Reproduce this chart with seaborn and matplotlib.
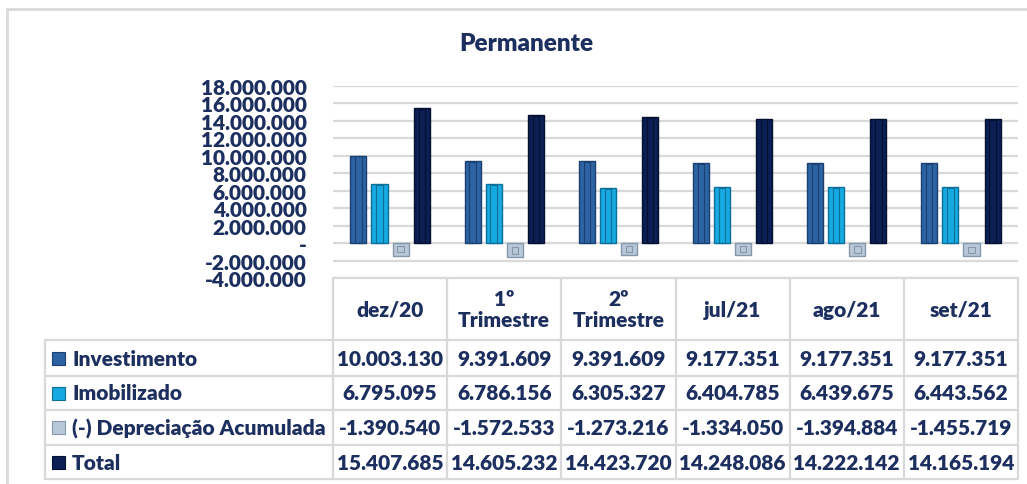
import numpy as np
import pandas as pd
import matplotlib
matplotlib.use("Agg")
import matplotlib.pyplot as plt
import seaborn as sns
from matplotlib.ticker import FuncFormatter, MultipleLocator
from matplotlib.lines import Line2D
from matplotlib.patches import Rectangle

# data
periodos = ["dez/20", "1º\nTrimestre", "2º\nTrimestre", "jul/21", "ago/21", "set/21"]
series = ["Investimento", "Imobilizado", "(-) Depreciação Acumulada", "Total"]
investimento = [10003130, 9391609, 9391609, 9177351, 9177351, 9177351]
imobilizado = [6795095, 6786156, 6305327, 6404785, 6439675, 6443562]
depreciacao = [-1390540, -1572533, -1273216, -1334050, -1394884, -1455719]
total = [15407685, 14605232, 14423720, 14248086, 14222142, 14165194]

cores = ["#2c63a3", "#17a9e1", "#b9c8d8", "#0c1f55"]
bordas = ["#1b3f6e", "#0b6f97", "#8497ab", "#050f2e"]
txt = "#1c2f5f"
grade = "#d9d9d9"

df = pd.DataFrame({"periodo": periodos, series[0]: investimento, series[1]: imobilizado,
                   series[2]: depreciacao, series[3]: total})
longo = df.melt(id_vars="periodo", var_name="serie", value_name="valor")

sns.set_style("white")
plt.rcParams["font.family"] = ["Lato", "DejaVu Sans"]
fs = 15

W, H = 1027, 485
fig = plt.figure(figsize=(W / 100, H / 100), dpi=100)

def fx(px):
    return px / W

def fy(py):
    return 1 - py / H

x0, x1 = 333, 1018
y_top, y_bot = 86.7, 279.4
ax = fig.add_axes([fx(x0), fy(y_bot), fx(x1) - fx(x0), fy(y_top) - fy(y_bot)])

sns.barplot(data=longo, x="periodo", y="valor", hue="serie", order=periodos,
            hue_order=series, palette=dict(zip(series, cores)), width=0.74, gap=0.24,
            ax=ax, legend=False, saturation=1, errorbar=None)

# bevel-ish outlines
for i, cont in enumerate(ax.containers):
    for p in cont:
        p.set_edgecolor(bordas[i])
        p.set_linewidth(1.0)
        x, y = p.get_x(), p.get_y()
        w, h = p.get_width(), p.get_height()
        ins = 0.05 * 22e6 / 14 if abs(h) > 4e6 else abs(h) * 0.25
        ax.add_patch(Rectangle((x + w * 0.3, y + np.sign(h) * ins), w * 0.4,
                               h - 2 * np.sign(h) * ins, fill=False,
                               edgecolor=bordas[i], lw=0.8, zorder=3))

ax.set_ylim(-4e6, 18e6)
ax.set_xlim(-0.5, 5.5)
ax.yaxis.set_major_locator(MultipleLocator(2e6))
ax.yaxis.grid(True, color=grade, lw=1.6)
ax.set_axisbelow(True)
for s in ax.spines.values():
    s.set_visible(False)
ax.set_xticks([])
ax.set_xlabel("")
ax.set_ylabel("")

def fmt(v, pos):
    if abs(v) < 1:
        return "-"
    return f"{v:,.0f}".replace(",", ".")

ax.yaxis.set_major_formatter(FuncFormatter(fmt))
ax.tick_params(axis="y", length=0, pad=19, labelsize=fs, labelcolor=txt)
for t in ax.get_yticklabels():
    t.set_fontweight("heavy")

fig.text(fx(526), fy(44), "Permanente", ha="center", va="center", fontsize=17.5,
         fontweight="heavy", color=txt)

# outer frame
fig.add_artist(Line2D([fx(7), fx(7)], [fy(10), fy(485)], color=grade, lw=2))
fig.add_artist(Line2D([fx(7), fx(1027)], [fy(10), fy(10)], color=grade, lw=2))

# data table
col_w = (x1 - x0) / len(periodos)
rows = [341, 377, 411, 446, 480]
legend_x = 45
for k in range(len(periodos) + 1):
    xe = x0 + k * col_w
    fig.add_artist(Line2D([fx(xe), fx(xe)], [fy(y_bot), fy(rows[-1])], color=grade, lw=1.6))
fig.add_artist(Line2D([fx(x0), fx(x1)], [fy(y_bot), fy(y_bot)], color=grade, lw=1.6))
for r in rows:
    fig.add_artist(Line2D([fx(legend_x), fx(x1)], [fy(r), fy(r)], color=grade, lw=1.6))
fig.add_artist(Line2D([fx(legend_x), fx(legend_x)], [fy(rows[0]), fy(rows[-1])], color=grade, lw=1.6))

for k, p in enumerate(periodos):
    fig.text(fx(x0 + (k + 0.5) * col_w), fy((y_bot + rows[0]) / 2), p, ha="center",
             va="center", fontsize=fs, fontweight="heavy", color=txt, linespacing=1.1)

valores = [investimento, imobilizado, depreciacao, total]
for j, nome in enumerate(series):
    yc = (rows[j] + rows[j + 1]) / 2
    fig.add_artist(Rectangle((fx(52), fy(yc + 6.5)), fx(13), 13 / H, facecolor=cores[j],
                             edgecolor=bordas[j], lw=0.8, transform=fig.transFigure))
    fig.text(fx(72), fy(yc), nome, ha="left", va="center", fontsize=fs,
             fontweight="heavy", color=txt)
    for k, v in enumerate(valores[j]):
        fig.text(fx(x0 + (k + 0.5) * col_w), fy(yc), fmt(v, None), ha="center",
                 va="center", fontsize=fs, fontweight="heavy", color=txt)

fig.savefig("out.png", dpi=100)
